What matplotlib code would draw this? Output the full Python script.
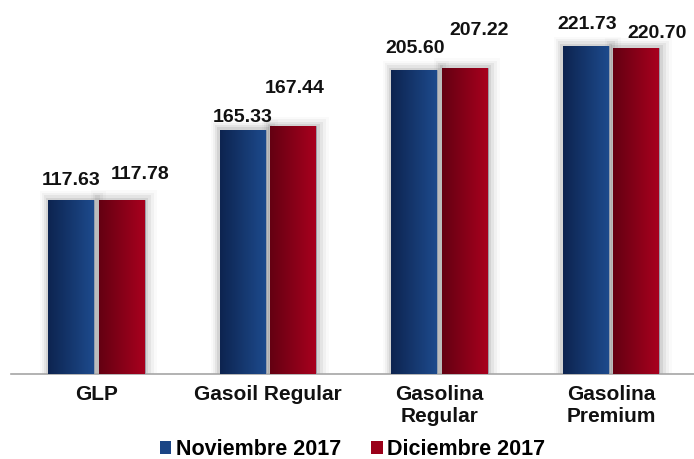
import numpy as np
import matplotlib.pyplot as plt
from matplotlib.patches import Rectangle
from matplotlib.colors import LinearSegmentedColormap

categories = ['GLP', 'Gasoil Regular', 'Gasolina\nRegular', 'Gasolina\nPremium']
series_names = ['Noviembre 2017', 'Diciembre 2017']
nov_values = [117.63, 165.33, 205.60, 221.73]
dic_values = [117.78, 167.44, 207.22, 220.70]

# label offsets in points (dx, dy), as laid out in the original
nov_offsets = [(0, 14), (0, 9), (1, 15.5), (1, 16)]
dic_offsets = [(13, 18), (1, 27), (10, 27), (15, 10)]

plt.rcParams['font.family'] = ['Liberation Sans', 'DejaVu Sans']

fig = plt.figure(figsize=(6.94, 4.59), dpi=100)
fig.patch.set_facecolor('white')
ax = fig.add_axes([10.75 / 694, 85 / 459, 686 / 694, 374 / 459])

x = np.arange(len(categories))
w = 0.268
gap = 0.029
cmaps = [
    LinearSegmentedColormap.from_list('blu', ['#0d2450', '#1d4a8c']),
    LinearSegmentedColormap.from_list('red', ['#640012', '#a8001e']),
]
legend_colors = ['#1b4585', '#9a0019']

for s, (vals, offs) in enumerate([(nov_values, nov_offsets), (dic_values, dic_offsets)]):
    xs = x - w / 2 - gap / 2 if s == 0 else x + w / 2 + gap / 2
    bars = ax.bar(xs, vals, w, color=legend_colors[s], edgecolor='#9aa3b0',
                  linewidth=0.6, zorder=3, label=series_names[s])
    grad = np.linspace(0, 1, 64).reshape(1, -1)
    for b in bars:
        # soft shadow
        for k, a in enumerate([0.07, 0.05, 0.035, 0.02]):
            sh = Rectangle((b.get_x() - 0.012 * (k + 1), 0),
                           b.get_width() + 0.03 * (k + 1),
                           b.get_height() + 1.6 * (k + 1),
                           facecolor='black', alpha=a, linewidth=0, zorder=2)
            ax.add_patch(sh)
        im = ax.imshow(grad, cmap=cmaps[s], aspect='auto', zorder=4,
                       extent=[b.get_x(), b.get_x() + b.get_width(),
                               0, b.get_height()])
        im.set_clip_path(b)
    for xi, v, (dx, dy) in zip(xs, vals, offs):
        ax.annotate(f'{v:.2f}', xy=(xi, v), xytext=(dx, dy),
                    textcoords='offset points', ha='center', va='center',
                    fontsize=14, fontweight='bold', color='#111111', zorder=5)

ax.set_xlim(-0.5, 3.5)
ax.set_ylim(0, 253)
ax.set_xticks(x)
ax.set_xticklabels(categories, fontsize=15, fontweight='bold', color='#111111',
                   linespacing=1.2)
ax.tick_params(axis='x', length=0, pad=8)
ax.set_yticks([])
for sp in ['top', 'right', 'left']:
    ax.spines[sp].set_visible(False)
ax.spines['bottom'].set_color('#a6a6a6')
ax.spines['bottom'].set_linewidth(1.2)

handles = [Rectangle((0, 0), 1, 1, facecolor=c) for c in legend_colors]
fig.legend(handles, series_names, loc='center', bbox_to_anchor=(0.508, 0.02),
           ncol=2, frameon=False, handlelength=0.55, handleheight=0.55,
           handletextpad=0.2, columnspacing=1.4, borderpad=0,
           prop={'size': 15.5, 'weight': 'bold'})

fig.savefig('out.png', dpi=100, facecolor='white')
